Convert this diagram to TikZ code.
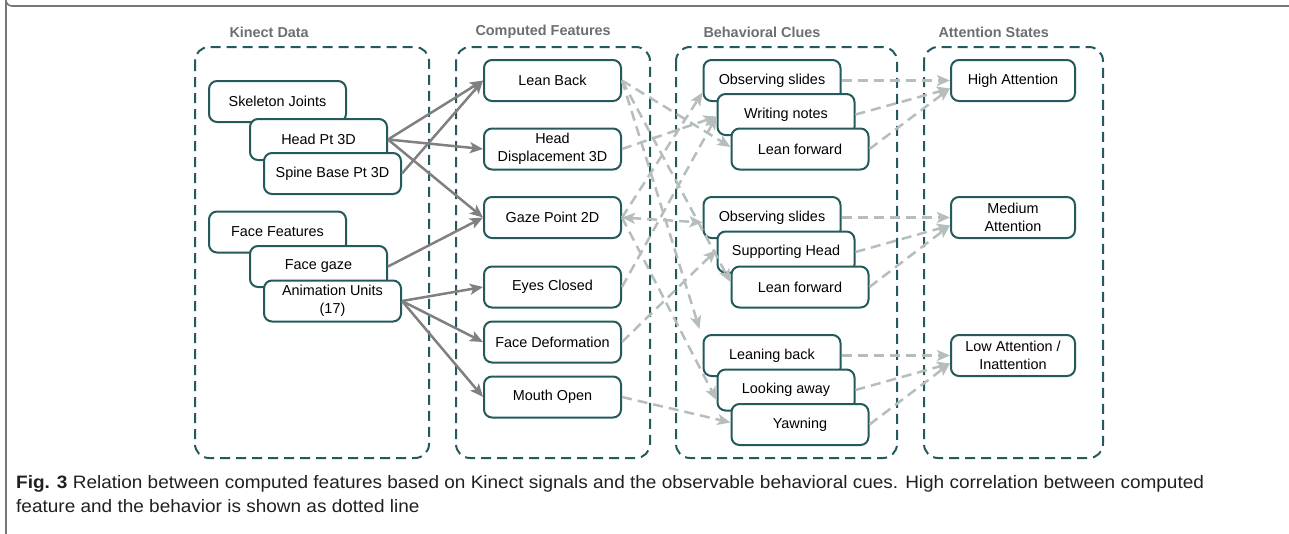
\documentclass[tikz,border=0pt]{standalone}
\usepackage{fontspec}
\setmainfont{Liberation Sans}
\usetikzlibrary{arrows.meta}
\definecolor{boxteal}{HTML}{245A5C}
\definecolor{solidgray}{HTML}{808080}
\definecolor{dashgray}{HTML}{B6BDBD}
\definecolor{titlegray}{HTML}{6D6E71}
\definecolor{framegray}{HTML}{777777}
\definecolor{captext}{HTML}{231F20}
\tikzset{
  box/.style={draw=boxteal, line width=2pt, fill=white, rounded corners=8pt,
    minimum width=137pt, minimum height=41pt, align=center,
    font=\fontsize{14.4}{18}\selectfont, inner sep=1pt},
  group/.style={draw=boxteal, line width=2pt, dash pattern=on 10pt off 6pt, rounded corners=14pt},
  gtitle/.style={anchor=west, text=titlegray, font=\fontsize{14.4}{16}\selectfont\bfseries},
  feed/.style={draw=solidgray, line width=2.5pt, -{Stealth[length=13pt,width=11pt,inset=3pt]}},
  clue/.style={draw=dashgray, line width=2.5pt, dash pattern=on 10pt off 6pt,
    -{Stealth[length=13pt,width=11pt,inset=3pt]}},
  captline/.style={anchor=west, text=captext, inner sep=0pt},
}
\newcommand{\captfont}{\fontsize{18}{21}\selectfont}
\begin{document}
\begin{tikzpicture}[x=1pt, y=-1pt]
\useasboundingbox (0,0) rectangle (1289,533);
% outer frame
\draw[framegray, line width=1.6pt] (1289,6) -- (12,6) arc[start angle=90, end angle=180, radius=6] -- (6,540);

% groups
\draw[group] (195,47) rectangle (429,458);
\draw[group] (456,47) rectangle (650,458);
\draw[group] (676,47) rectangle (897,458);
\draw[group] (924,47) rectangle (1103,458);
\node[gtitle] (tk) at (226,32) {Kinect Data};
\node[gtitle] (tc) at (472,32) {Computed Features};
\node[gtitle] (tb) at (700,32) {Behavioral Clues};
\node[gtitle] (ta) at (935,32) {Attention States};

% Kinect data
\node[box] (skel) at (277.5,101.5) {Skeleton Joints};
\node[box] (head) at (318.5,139.5) {Head Pt 3D};
\node[box] (spine) at (332.5,173.5) {Spine Base Pt 3D};
\node[box] (face) at (277.5,232) {Face Features};
\node[box] (gaze) at (318.5,266.5) {Face gaze};
\node[box] (au) at (332.5,301) {Animation Units\\(17)};

% computed features
\node[box] (lb) at (552.5,80.5) {Lean Back};
\node[box] (hd) at (552.5,149) {Head\\Displacement 3D};
\node[box] (gp) at (552.5,217.5) {Gaze Point 2D};
\node[box] (ec) at (552.5,287) {Eyes Closed};
\node[box] (fd) at (552.5,342) {Face Deformation};
\node[box] (mo) at (552.5,397) {Mouth Open};

% behavioral clues
\node[box] (os1) at (772,80.5) {Observing slides};
\node[box] (wn) at (786,114.5) {Writing notes};
\node[box] (lf1) at (800,149) {Lean forward};
\node[box] (os2) at (772,217.5) {Observing slides};
\node[box] (sh) at (786,252) {Supporting Head};
\node[box] (lf2) at (800,287) {Lean forward};
\node[box] (lk) at (772,355.5) {Leaning back};
\node[box] (la) at (786,390) {Looking away};
\node[box] (yw) at (800,424.5) {Yawning};

% attention states
\node[box, minimum width=124pt] (ha) at (1013,80.5) {High Attention};
\node[box, minimum width=124pt] (ma) at (1013,217.5) {Medium\\Attention};
\node[box, minimum width=124pt] (lo) at (1013,355.5) {Low Attention /\\Inattention};

% kinect signals to computed features
\draw[feed] (head.east) -- (lb.west);
\draw[feed] (spine.east) -- (lb.west);
\draw[feed] (head.east) -- (hd.west);
\draw[feed] (head.east) -- (gp.west);
\draw[feed] (gaze.east) -- (gp.west);
\draw[feed] (au.east) -- (ec.west);
\draw[feed] (au.east) -- (fd.west);
\draw[feed] (au.east) -- (mo.west);

% computed features to behavioral clues
\draw[clue] (lb.east) -- ([yshift=2pt]lf1.west);
\draw[clue] (lb.east) -- ([yshift=5pt]lf2.west);
\draw[clue] (lb.east) -- ([xshift=-3pt,yshift=5pt]lk.north west);
\draw[clue] (hd.east) -- ([yshift=-2pt]wn.west);
\draw[clue] (gp.east) -- ([yshift=-12pt]os1.west);
\draw[clue, {Stealth[length=13pt,width=11pt,inset=3pt]}-{Stealth[length=13pt,width=11pt,inset=3pt]}] (gp.east) -- ([yshift=-5pt]os2.west);
\draw[clue] (gp.east) -- ([yshift=-10pt]la.west);
\draw[clue] (ec.east) -- ([yshift=-2pt]wn.west);
\draw[clue] (fd.east) -- ([yshift=2pt]sh.west);
\draw[clue] (mo.east) -- ([yshift=2pt]yw.west);

% behavioral clues to attention states
\draw[clue] (os1.east) -- (ha.west);
\draw[clue] (wn.east) -- ([yshift=-8pt]ha.west);
\draw[clue] (lf1.east) -- ([yshift=-8pt]ha.west);
\draw[clue] (os2.east) -- (ma.west);
\draw[clue] (sh.east) -- ([yshift=-8pt]ma.west);
\draw[clue] (lf2.east) -- ([yshift=-8pt]ma.west);
\draw[clue] (lk.east) -- (lo.west);
\draw[clue] (la.east) -- ([yshift=-8pt]lo.west);
\draw[clue] (yw.east) -- ([yshift=-8pt]lo.west);

% caption
\node[captline] (cap1) at (16,484)
  {\scalebox{1.055}[1]{\captfont\textbf{Fig. 3} Relation between computed features based on Kinect signals and the observable behavioral cues. High correlation between computed}};
\node[captline] (cap2) at (16,506)
  {\scalebox{1.055}[1]{\captfont feature and the behavior is shown as dotted line}};
\end{tikzpicture}
\end{document}
